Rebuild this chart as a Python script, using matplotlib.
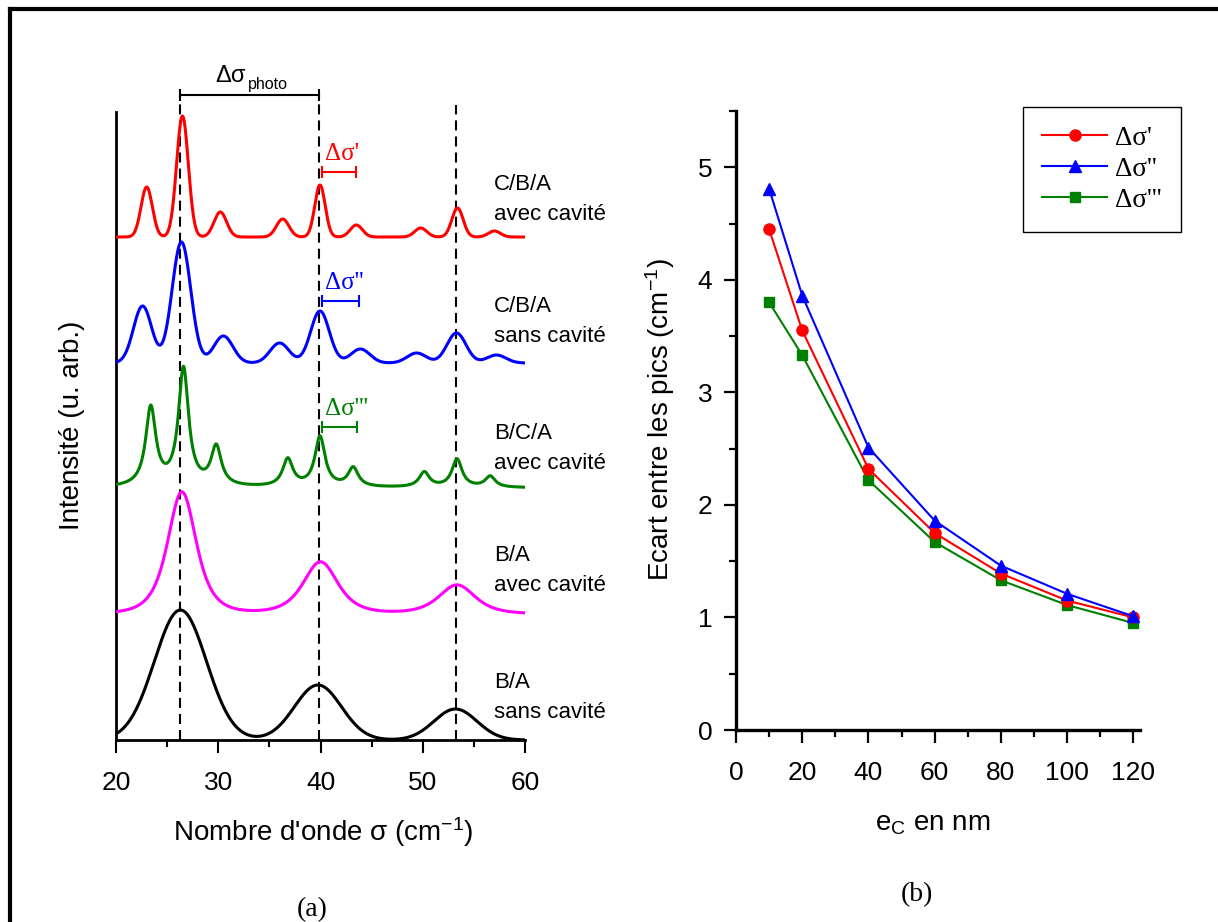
import numpy as np
import matplotlib
matplotlib.use('Agg')
import matplotlib.pyplot as plt
from matplotlib.lines import Line2D
from matplotlib.ticker import MultipleLocator

plt.rcParams['font.family'] = ['Liberation Sans', 'DejaVu Sans']
plt.rcParams['mathtext.fontset'] = 'custom'
plt.rcParams['mathtext.rm'] = 'Liberation Sans'
plt.rcParams['mathtext.it'] = 'Liberation Sans:italic'
plt.rcParams['mathtext.bf'] = 'Liberation Sans:bold'

# ---- (a) spectra: peaks (position cm-1, height, FWHM cm-1)
black_pos = [26.3, 39.75, 53.2]
black_amp = [1.30, 0.55, 0.31]
black_fwhm = [6.0, 5.4, 4.95]

magenta_pos = [26.45, 40.0, 53.35]
magenta_amp = [1.22, 0.52, 0.29]
magenta_fwhm = [3.3, 4.0, 4.2]

green_pos = [23.4, 26.6, 29.8, 36.8, 39.95, 43.2, 50.15, 53.35, 56.6]
green_amp = [0.785, 1.175, 0.39, 0.275, 0.50, 0.19, 0.15, 0.28, 0.11]
green_fwhm = [1.2, 1.2, 1.2, 1.2, 1.2, 1.2, 1.2, 1.2, 1.2]

blue_pos = [22.6, 26.4, 30.5, 36.0, 39.95, 43.9, 49.4, 53.3, 57.2]
blue_amp = [0.57, 1.21, 0.27, 0.20, 0.52, 0.14, 0.10, 0.30, 0.08]
blue_fwhm = [2.1, 2.15, 2.2, 2.2, 2.15, 2.2, 2.2, 2.2, 2.2]

red_pos = [23.0, 26.5, 30.2, 36.3, 39.95, 43.5, 49.8, 53.4, 57.0]
red_amp = [0.50, 1.21, 0.25, 0.18, 0.52, 0.12, 0.09, 0.29, 0.06]
red_fwhm = [1.3, 1.35, 1.45, 1.45, 1.2, 1.4, 1.4, 1.3, 1.4]

spectra_names = [['B/A', 'sans cavité'], ['B/A', 'avec cavité'], ['B/C/A', 'avec cavité'],
                 ['C/B/A', 'sans cavité'], ['C/B/A', 'avec cavité']]

# dashed guides and the delta-sigma brackets (cm-1)
guide_pos = [26.3, 39.85, 53.3]
photo_span = [26.3, 39.85]
dsig_span = [[40.1, 43.5], [40.1, 43.8], [40.1, 43.6]]

# ---- (b) peak spacing vs cavity thickness
ec_nm = [10, 20, 40, 60, 80, 100, 120]
dsig1 = [4.45, 3.55, 2.32, 1.75, 1.39, 1.15, 1.00]
dsig2 = [4.81, 3.86, 2.51, 1.86, 1.46, 1.21, 1.01]
dsig3 = [3.80, 3.33, 2.22, 1.67, 1.33, 1.11, 0.95]


def peak(x, x0, fwhm, kind):
    d = (x - x0) / (fwhm / 2.0)
    if kind == 'gauss':
        return np.exp(-np.log(2) * d ** 2)
    if kind == 'lorentz':
        return 1.0 / (1.0 + d ** 2)
    return 1.0 / (1.0 + (np.sqrt(2) - 1) * d ** 2) ** 2


def spectrum(x, pos, amp, fwhm, kind):
    y = np.zeros_like(x)
    for p, a, w in zip(pos, amp, fwhm):
        y += a * peak(x, p, w, kind)
    return y


W, H = 1218, 922


def px_box(l, t, r, b):
    return [l / W, 1 - b / H, (r - l) / W, (b - t) / H]


fig = plt.figure(figsize=(12.18, 9.22), dpi=100)
ax1 = fig.add_axes(px_box(116, 70, 525, 740))
ax2 = fig.add_axes(px_box(736, 111, 1140, 730))

# ---------------- panel (a)
x = np.linspace(20, 60, 2000)
curves = [
    (black_pos, black_amp, black_fwhm, 'gauss', 'black'),
    (magenta_pos, magenta_amp, magenta_fwhm, 'lorentz2', '#ff00ff'),
    (green_pos, green_amp, green_fwhm, 'lorentz', '#008000'),
    (blue_pos, blue_amp, blue_fwhm, 'gauss', '#0000ff'),
    (red_pos, red_amp, red_fwhm, 'gauss', '#ff0000'),
]
offsets = [0.0, 1.26, 2.52, 3.77, 5.03]
label_y = [0.42, 1.70, 2.92, 4.19, 5.41]

for (pos, amp, fw, kind, col), off, name, ly in zip(curves, offsets, spectra_names, label_y):
    ax1.plot(x, off + spectrum(x, pos, amp, fw, kind), color=col, lw=2.2, zorder=3)
    ax1.text(57.0, ly + 0.15, name[0], fontsize=16, va='center', ha='left', clip_on=False)
    ax1.text(57.0, ly - 0.15, name[1], fontsize=16, va='center', ha='left', clip_on=False)

guide_top = [6.45, 6.45, 6.35]
for gx, gt in zip(guide_pos, guide_top):
    ax1.plot([gx, gx], [0, gt], color='black', lw=1.5, dashes=(4.8, 2.9), zorder=2,
             clip_on=False)

ax1.plot(photo_span, [6.45, 6.45], color='black', lw=1.5, marker='|', ms=8, mew=1.5,
         clip_on=False)
ax1.text(29.7, 6.58, 'Δσ', fontsize=17, ha='left', va='baseline')
ax1.text(32.95, 6.51, 'photo', fontsize=11.5, ha='left', va='baseline')

dsig_y = [5.68, 4.39, 3.13]
dsig_cols = ['#ff0000', '#0000ff', '#008000']
dsig_names = ["Δσ'", "Δσ''", "Δσ'''"]
for span, yy, col, nm in zip(dsig_span, dsig_y, dsig_cols, dsig_names):
    ax1.plot(span, [yy, yy], color=col, lw=1.5, marker='|', ms=8, mew=1.5)
    ax1.text(40.4, yy + 0.12, nm, color=col, fontsize=18, family='Liberation Serif',
             ha='left', va='baseline')

ax1.set_xlim(20, 60)
ax1.set_ylim(0, 6.7)
ax1.set_yticks([])
ax1.spines['top'].set_visible(False)
ax1.spines['right'].set_visible(False)
ax1.spines['left'].set_bounds(0, 6.28)
ax1.spines['left'].set_linewidth(2.0)
ax1.spines['bottom'].set_linewidth(2.0)
ax1.xaxis.set_major_locator(MultipleLocator(10))
ax1.xaxis.set_minor_locator(MultipleLocator(5))
ax1.tick_params(axis='x', which='major', direction='out', length=9, width=1.5,
                pad=13, labelsize=19)
ax1.tick_params(axis='x', which='minor', direction='out', length=5, width=1.5)
ax1.set_facecolor('none')

# ---------------- panel (b)
l3, = ax2.plot(ec_nm, dsig3, color='#008000', lw=1.5, marker='s', ms=6.5)
l1, = ax2.plot(ec_nm, dsig1, color='#ff0000', lw=1.5, marker='o', ms=8)
l2, = ax2.plot(ec_nm, dsig2, color='#0000ff', lw=1.5, marker='^', ms=8.5)

ax2.set_xlim(0, 122)
ax2.set_ylim(0, 5.5)
ax2.set_xticks([0, 20, 40, 60, 80, 100, 120])
ax2.xaxis.set_minor_locator(MultipleLocator(10))
ax2.set_yticks([0, 1, 2, 3, 4, 5])
ax2.yaxis.set_minor_locator(MultipleLocator(0.5))
ax2.spines['top'].set_visible(False)
ax2.spines['right'].set_visible(False)
for s in ['left', 'bottom']:
    ax2.spines[s].set_linewidth(2.4)
ax2.tick_params(axis='both', which='major', direction='out', length=9, width=1.6,
                labelsize=19)
ax2.tick_params(axis='x', which='major', pad=13)
ax2.tick_params(axis='y', which='major', pad=8)
ax2.tick_params(axis='both', which='minor', direction='out', length=5, width=1.6)

leg = ax2.legend([l1, l2, l3], ["Δσ'", "Δσ''", "Δσ'''"], loc='upper right',
                 bbox_to_anchor=((1181 - 736) / 404, (730 - 107) / 619),
                 borderaxespad=0, fancybox=False, framealpha=1, edgecolor='black',
                 prop={'family': 'Liberation Serif', 'size': 19.5},
                 handlelength=2.4, handletextpad=0.3, borderpad=0.7, labelspacing=0.22)
leg.get_frame().set_linewidth(1.0)

# ---------------- labels
fig.text(72 / W, 1 - 425 / H, 'Intensité (u. arb.)', rotation=90, fontsize=20,
         ha='center', va='center')
fig.text(323 / W, 1 - 832 / H, "Nombre d'onde σ (cm$^{-1}$)", fontsize=20,
         ha='center', va='center')
fig.text(660 / W, 1 - 420 / H, 'Ecart entre les pics (cm$^{-1}$)', rotation=90,
         fontsize=20, ha='center', va='center')
fig.text(933 / W, 1 - 824 / H, 'e$_\\mathrm{C}$ en nm', fontsize=20,
         ha='center', va='center')
fig.text(312 / W, 1 - 910 / H, '(a)', fontsize=20, family='Liberation Serif',
         ha='center', va='center')
fig.text(917 / W, 1 - 895 / H, '(b)', fontsize=20, family='Liberation Serif',
         ha='center', va='center')

# outer frame (left and top edges visible)
fig.add_artist(Line2D([10 / W, 10 / W], [0, 1 - 9 / H], transform=fig.transFigure,
                      color='black', lw=3))
fig.add_artist(Line2D([10 / W, 1], [1 - 9 / H, 1 - 9 / H], transform=fig.transFigure,
                      color='black', lw=3))

fig.savefig('out.png', dpi=100)
